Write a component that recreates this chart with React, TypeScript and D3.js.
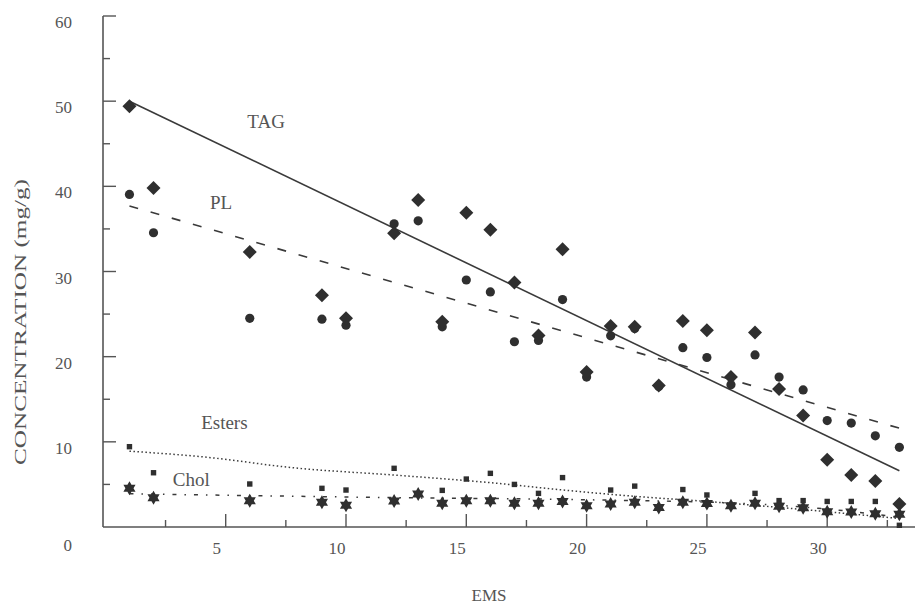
import React from "react";
import * as d3 from "d3";

const W = 915;
const H = 605;

const ems = [1, 2, 6, 9, 10, 12, 13, 14, 15, 16, 17, 18, 19, 20, 21, 22, 23, 24, 25, 26, 27, 28, 29, 30, 31, 32, 33];
const tag = [49.4, 39.8, 32.3, 27.2, 24.5, 34.5, 38.4, 24.1, 36.9, 34.9, 28.7, 22.5, 32.6, 18.2, 23.6, 23.5, 16.6, 24.2, 23.1, 17.6, 22.85, 16.2, 13.1, 7.9, 6.1, 5.4, 2.7];
const pl = [39.05, 34.55, 24.5, 24.4, 23.7, 35.6, 35.95, 23.5, 29.0, 27.6, 21.75, 21.9, 26.7, 17.6, 22.45, 23.3, 16.5, 21.05, 19.9, 16.7, 20.2, 17.6, 16.1, 12.5, 12.2, 10.7, 9.35];
const esters = [9.43, 6.37, 5.05, 4.54, 4.34, 6.89, 3.9, 4.3, 5.63, 6.3, 5.0, 3.95, 5.8, 2.5, 4.34, 4.8, 2.3, 4.4, 3.76, 2.5, 3.95, 3.1, 3.1, 3.0, 3.0, 3.0, 0.2];
const chol = [4.54, 3.44, 3.09, 2.9, 2.55, 3.05, 3.87, 2.78, 3.09, 3.09, 2.78, 2.78, 3.0, 2.5, 2.7, 2.9, 2.3, 2.9, 2.75, 2.5, 2.8, 2.45, 2.25, 1.8, 1.75, 1.55, 1.5];

// fitted trend lines
const tagFitX = [1, 33];
const tagFitY = [50.0, 6.6];
const plFitX = [1, 33];
const plFitY = [37.7, 11.6];
const estersFitX = [1, 4, 8, 12, 16.4, 19, 22, 25, 28, 33];
const estersFitY = [8.9, 8.25, 6.9, 6.1, 5.1, 4.35, 3.6, 3.0, 2.3, 1.0];
const cholFitX = [1, 12, 20, 27, 30, 33];
const cholFitY = [3.9, 3.45, 3.2, 2.7, 2.1, 1.15];

const yTicks = [0, 10, 20, 30, 40, 50, 60];
const yMinor = [5, 15, 25, 35, 45, 55];
const xTicks = [5, 10, 15, 20, 25, 30];
const xMinor = [2.5, 7.5, 12.5, 17.5, 22.5, 27.5, 32.5];

const seriesLabels = [
  { text: "TAG", x: 5.9, y: 46.85 },
  { text: "PL", x: 4.35, y: 37.3 },
  { text: "Esters", x: 3.98, y: 11.5 },
  { text: "Chol", x: 2.8, y: 4.8 },
];

const INK = "#2f2f2f";
const TXT = "#555";
const FONT = "'Liberation Serif', 'Times New Roman', serif";

function starPath(r: number): string {
  const pts: string[] = [];
  const ri = r * 0.58;
  for (let i = 0; i < 12; i++) {
    const a = (Math.PI / 6) * i - Math.PI / 2;
    const rr = i % 2 === 0 ? r : ri;
    pts.push(`${(rr * Math.cos(a)).toFixed(2)},${(rr * Math.sin(a)).toFixed(2)}`);
  }
  return "M" + pts.join("L") + "Z";
}

function diamondPath(r: number): string {
  return `M0,${-r}L${r},0L0,${r}L${-r},0Z`;
}

export default function App() {
  const x = d3.scaleLinear().domain([0, 33]).range([105.4, 105.4 + 33 * 24.06]);
  const y = d3.scaleLinear().domain([0, 60]).range([527, 16]);
  const axisX0 = 103;
  const axisY0 = 527;

  const straight = d3
    .line<[number, number]>()
    .x((d) => x(d[0]))
    .y((d) => y(d[1]));
  const smooth = d3
    .line<[number, number]>()
    .x((d) => x(d[0]))
    .y((d) => y(d[1]))
    .curve(d3.curveMonotoneX);

  const zip = (a: number[], b: number[]) => a.map((v, i) => [v, b[i]] as [number, number]);

  const star = starPath(7);
  const diamond = diamondPath(7);

  return (
    <svg
      width={W}
      height={H}
      style={{ position: "absolute", left: 0, top: 0, background: "#fff" }}
      fontFamily={FONT}
    >
      <rect x={0} y={0} width={W} height={H} fill="#fff" />
      {/* axes */}
      <line x1={axisX0} y1={y(60)} x2={axisX0} y2={axisY0} stroke="#555" strokeWidth={1.6} />
      <line x1={axisX0} y1={axisY0} x2={W} y2={axisY0} stroke="#555" strokeWidth={1.6} />
      {yTicks.filter((t) => t > 0).map((t) => (
        <line key={"yt" + t} x1={axisX0} x2={axisX0 + 13} y1={y(t)} y2={y(t)} stroke="#555" strokeWidth={1.4} />
      ))}
      {yMinor.map((t) => (
        <line key={"ym" + t} x1={axisX0} x2={axisX0 + 7} y1={y(t)} y2={y(t)} stroke="#555" strokeWidth={1.4} />
      ))}
      {xTicks.map((t) => (
        <line key={"xt" + t} x1={x(t)} x2={x(t)} y1={axisY0} y2={axisY0 - 13} stroke="#555" strokeWidth={1.4} />
      ))}
      {xMinor.map((t) => (
        <line key={"xm" + t} x1={x(t)} x2={x(t)} y1={axisY0} y2={axisY0 - 7} stroke="#555" strokeWidth={1.4} />
      ))}
      {yTicks.map((t) => (
        <text
          key={"yl" + t}
          x={72}
          y={t === 0 ? 551 : y(t) + 12}
          textAnchor="end"
          fontSize={17}
          fill={TXT}
        >
          {t}
        </text>
      ))}
      {xTicks.map((t) => (
        <text key={"xl" + t} x={x(t) - 9} y={554} textAnchor="middle" fontSize={17} fill={TXT}>
          {t}
        </text>
      ))}
      <text x={489} y={601} textAnchor="middle" fontSize={17} fill={TXT}>
        EMS
      </text>
      <text
        transform={`translate(26,322) rotate(-90)`}
        textAnchor="middle"
        fontSize={16}
        textLength={286}
        lengthAdjust="spacingAndGlyphs"
        fill={TXT}
      >
        CONCENTRATION (mg/g)
      </text>

      {/* fit lines */}
      <path d={straight(zip(tagFitX, tagFitY)) || ""} fill="none" stroke="#3a3a3a" strokeWidth={1.6} />
      <path d={straight(zip(plFitX, plFitY)) || ""} fill="none" stroke="#3a3a3a" strokeWidth={1.6} strokeDasharray="9,13" />
      <path d={smooth(zip(estersFitX, estersFitY)) || ""} fill="none" stroke="#3a3a3a" strokeWidth={1.5} strokeDasharray="1.5,2.5" />
      <path d={smooth(zip(cholFitX, cholFitY)) || ""} fill="none" stroke="#3a3a3a" strokeWidth={1.5} strokeDasharray="4,8,1.5,8" />

      {/* markers */}
      {ems.map((e, i) => (
        <rect key={"es" + i} x={x(e) - 2.7} y={y(esters[i]) - 2.7} width={5.4} height={5.4} fill={INK} />
      ))}
      {ems.map((e, i) => (
        <circle key={"pl" + i} cx={x(e)} cy={y(pl[i])} r={4.6} fill={INK} />
      ))}
      {ems.map((e, i) => (
        <path key={"tg" + i} d={diamond} transform={`translate(${x(e)},${y(tag[i])})`} fill={INK} />
      ))}
      {ems.map((e, i) => (
        <path key={"ch" + i} d={star} transform={`translate(${x(e)},${y(chol[i])})`} fill={INK} />
      ))}

      {/* series labels */}
      {seriesLabels.map((l) => (
        <text key={l.text} x={x(l.x)} y={y(l.y)} fontSize={19} fill={TXT}>
          {l.text}
        </text>
      ))}
    </svg>
  );
}
